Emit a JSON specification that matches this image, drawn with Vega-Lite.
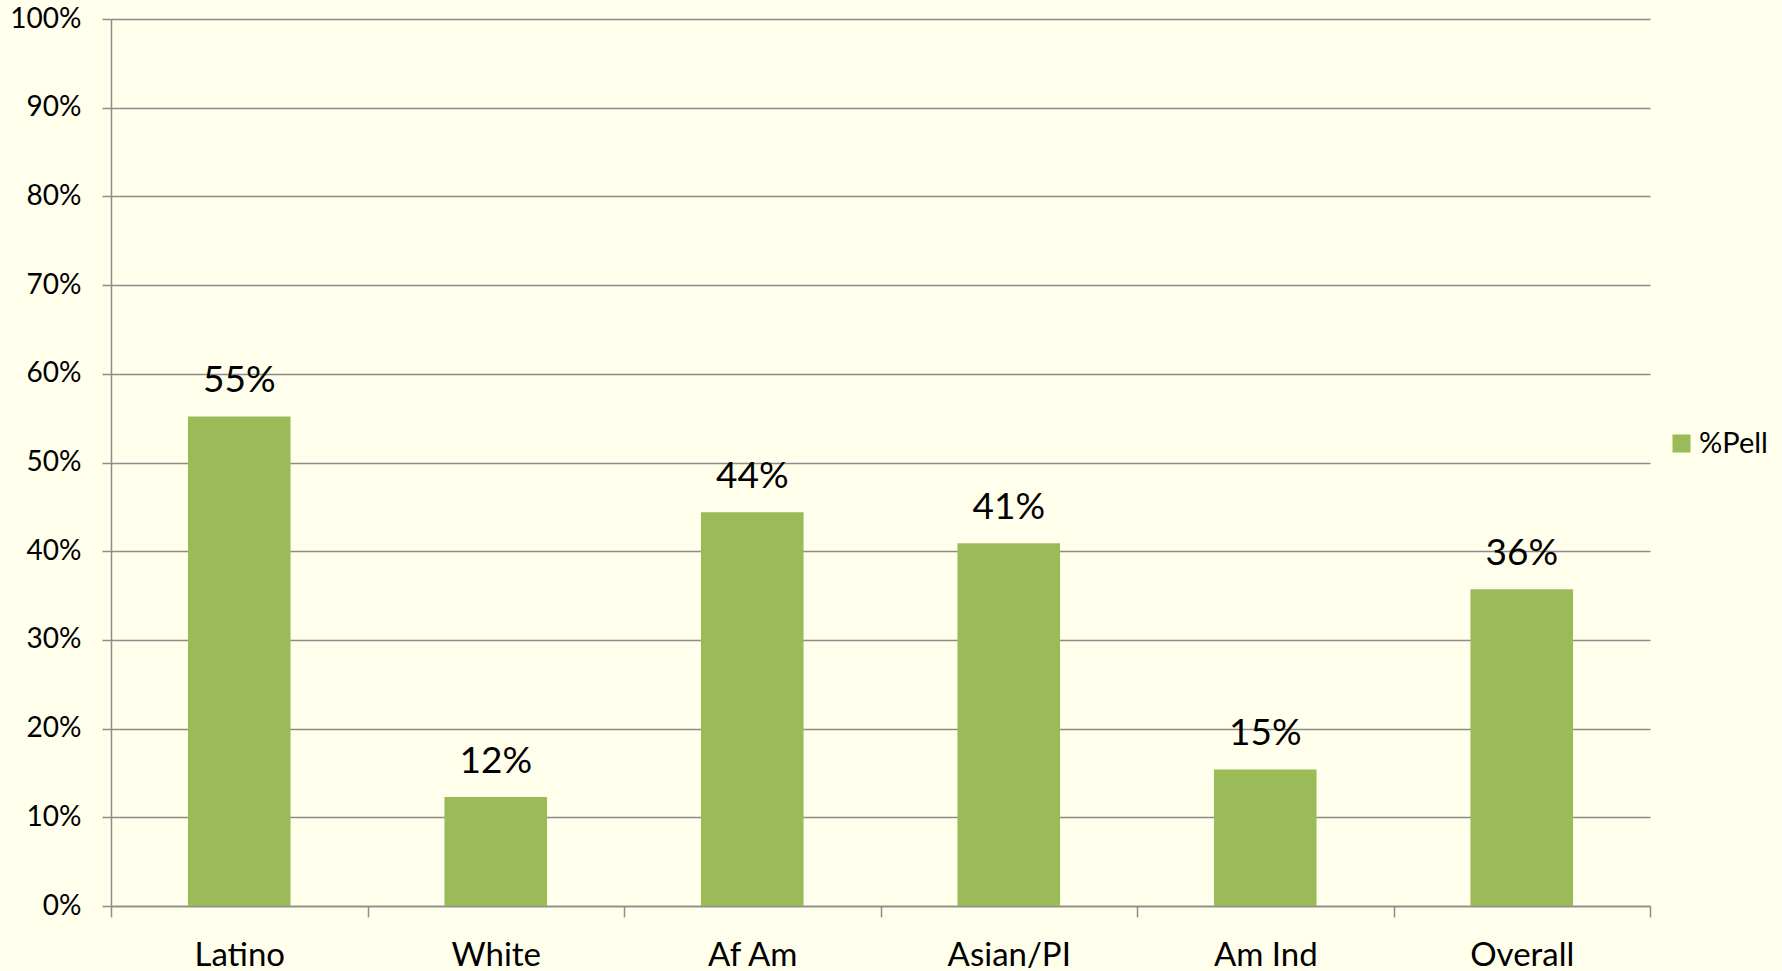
{
  "$schema": "https://vega.github.io/schema/vega-lite/v6.json",
  "autosize": {"type": "none"},
  "width": 1539,
  "height": 887,
  "padding": {"left": 111, "top": 19, "right": 132, "bottom": 65},
  "background": "#FFFFEB",
  "config": {
    "view": {"stroke": null},
    "font": "Lato"
  },
  "data": {
    "values": [
      {"group": "Latino", "value": 0.552, "series": "%Pell"},
      {"group": "White", "value": 0.123, "series": "%Pell"},
      {"group": "Af Am", "value": 0.444, "series": "%Pell"},
      {"group": "Asian/PI", "value": 0.409, "series": "%Pell"},
      {"group": "Am Ind", "value": 0.154, "series": "%Pell"},
      {"group": "Overall", "value": 0.357, "series": "%Pell"}
    ]
  },
  "encoding": {
    "x": {
      "field": "group",
      "type": "nominal",
      "sort": null,
      "scale": {"paddingInner": 0, "paddingOuter": 0},
      "axis": {
        "title": null,
        "labelAngle": 0,
        "labelFont": "Lato",
        "labelFontSize": 33,
        "labelColor": "#000000",
        "labelPadding": 22,
        "tickBand": "extent",
        "tickSize": 11,
        "tickColor": "#8c8c8c",
        "tickWidth": 1.5,
        "domainColor": "#8c8c8c",
        "domainWidth": 1.5,
        "grid": false
      }
    },
    "y": {
      "field": "value",
      "type": "quantitative",
      "scale": {"domain": [0, 1], "nice": false},
      "axis": {
        "title": null,
        "values": [0, 0.1, 0.2, 0.3, 0.4, 0.5, 0.6, 0.7, 0.8, 0.9, 1],
        "format": ".0%",
        "labelFont": "Lato",
        "labelFontSize": 28,
        "labelColor": "#000000",
        "labelPadding": 21,
        "tickSize": 9,
        "tickColor": "#8c8c8c",
        "tickWidth": 1.5,
        "domainColor": "#8c8c8c",
        "domainWidth": 1.5,
        "grid": true,
        "gridColor": "#8c8c8c",
        "gridWidth": 1.5
      }
    }
  },
  "layer": [
    {
      "mark": {"type": "bar", "width": {"band": 0.4}},
      "encoding": {
        "color": {
          "field": "series",
          "type": "nominal",
          "scale": {"range": ["#9BBB59"]},
          "legend": {
            "title": null,
            "orient": "none",
            "legendX": 1556,
            "legendY": 410,
            "symbolType": "square",
            "symbolSize": 324,
            "symbolStrokeWidth": 0,
            "labelFont": "Lato",
            "labelFontSize": 29,
            "labelColor": "#000000",
            "labelOffset": 3
          }
        }
      }
    },
    {
      "mark": {"type": "text", "baseline": "alphabetic", "dy": -24, "fontSize": 37, "font": "Lato", "color": "#000000"},
      "encoding": {
        "text": {"field": "value", "type": "quantitative", "format": ".0%"}
      }
    }
  ]
}
